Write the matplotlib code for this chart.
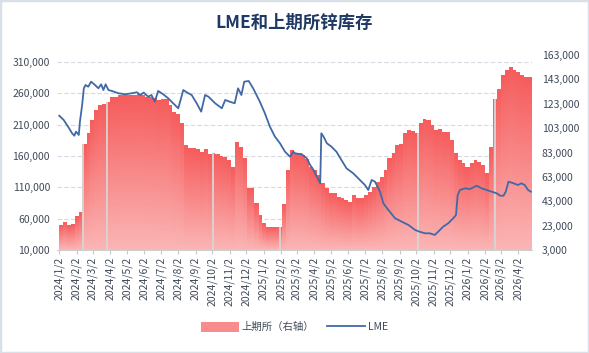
import numpy as np
import pandas as pd
import matplotlib
matplotlib.use("Agg")
import matplotlib.pyplot as plt
import matplotlib.dates as mdates
from matplotlib.patches import Patch, Rectangle
from matplotlib.lines import Line2D

plt.rcParams["font.family"] = ["Noto Sans CJK SC", "DejaVu Sans"]

title = "LME和上期所锌库存"
shfe_label = "上期所（右轴）"
lme_label = "LME"

# SHFE weekly warehouse stock (tonnes), one value per Friday from 2024-01-05
shfe_start = "2024-01-05"
shfe_stock = [
    23000, 26000, 23500, 24000, 30300, 34400, 89600, 98600, 109600, 117800,
    121900, 122700, 124600, 128700, 128700, 130000, 130000, 130500, 130000, 130500,
    131000, 130000, 128700, 128700, 128000, 126000, 127000, 127000, 122000, 115900,
    115000, 106900, 89000, 86400, 86400, 85500, 83600, 86000, 81400, 82300,
    81600, 80500, 79500, 76800, 71300, 91300, 87700, 78200, 53600, 53600,
    41300, 31700, 24900, 22100, 22100, 22100, 22100, 40500, 68600, 85000,
    82300, 82300, 80900, 78000, 71300, 68600, 64500, 57700, 53600, 49500,
    49500, 46700, 45500, 44000, 42600, 48100, 45400, 45400, 48100, 50800,
    54900, 59000, 63100, 68600, 78200, 82300, 89000, 90400, 98600, 101400,
    100500, 98600, 106900, 111000, 109600, 105500, 101400, 102200, 100000, 100000,
    93200, 82300, 76800, 74100, 71300, 74100, 76800, 75400, 72700, 66000,
    87700, 127300, 135500, 146400, 150500, 153200, 150500, 149100, 146400, 145000,
    145000,
]
# holidays with no SHFE data (thin grey breaks in the columns)
holiday_gaps = ["2024-02-13", "2024-03-28", "2024-10-04", "2025-01-31", "2025-10-05", "2026-02-19"]

# LME stock (tonnes)
lme_dates = [
    "2024-01-02", "2024-01-10", "2024-01-19", "2024-01-25", "2024-01-29", "2024-02-01",
    "2024-02-06", "2024-02-08", "2024-02-12", "2024-02-15", "2024-02-18", "2024-02-23",
    "2024-02-28", "2024-03-06", "2024-03-12", "2024-03-17", "2024-03-21", "2024-03-25",
    "2024-03-30", "2024-04-05", "2024-04-17", "2024-04-29", "2024-05-11", "2024-05-20",
    "2024-05-26", "2024-06-01", "2024-06-09", "2024-06-15", "2024-06-21", "2024-06-27",
    "2024-07-06", "2024-07-15", "2024-07-21", "2024-07-27", "2024-08-02", "2024-08-11",
    "2024-08-17", "2024-08-26", "2024-09-04", "2024-09-12", "2024-09-19", "2024-09-25",
    "2024-10-07", "2024-10-19", "2024-10-25", "2024-11-02", "2024-11-11", "2024-11-17",
    "2024-11-23", "2024-11-28", "2024-12-06", "2024-12-14", "2024-12-26", "2025-01-04",
    "2025-01-13", "2025-01-22", "2025-01-31", "2025-02-09", "2025-02-18", "2025-02-24",
    "2025-02-27", "2025-03-11", "2025-03-20", "2025-03-26", "2025-04-01", "2025-04-07",
    "2025-04-13", "2025-04-15", "2025-04-19", "2025-04-25", "2025-05-03", "2025-05-12",
    "2025-05-21", "2025-05-30", "2025-06-11", "2025-06-23", "2025-07-02", "2025-07-08",
    "2025-07-14", "2025-07-20", "2025-07-29", "2025-08-04", "2025-08-13", "2025-08-25",
    "2025-09-06", "2025-09-18", "2025-09-30", "2025-10-08", "2025-10-17", "2025-10-26",
    "2025-11-04", "2025-11-10", "2025-11-19", "2025-11-28", "2025-12-07", "2025-12-12",
    "2025-12-15", "2025-12-19", "2025-12-28", "2026-01-06", "2026-01-18", "2026-01-27",
    "2026-02-05", "2026-02-14", "2026-02-23", "2026-03-01", "2026-03-07", "2026-03-11",
    "2026-03-16", "2026-03-25", "2026-04-02", "2026-04-08", "2026-04-14", "2026-04-20",
    "2026-04-25",
]
lme_stock = [
    224500, 217600, 205300, 196400, 192500, 199000,
    193700, 214900, 241600, 268200, 273500, 270800,
    278800, 273500, 268200, 274600, 265500, 274600,
    265500, 264000, 260300, 258700, 260300, 261900,
    257500, 261400, 254800, 257500, 246800, 264000,
    258700, 252300, 246800, 241600, 236300, 265500,
    261900, 257500, 244300, 230900, 257500, 254800,
    244300, 236300, 249600, 246800, 244300, 268200,
    257500, 278800, 279900, 268200, 246800, 228300,
    206900, 191000, 180400, 167000, 159000, 167000,
    164400, 162800, 156400, 145700, 137800, 127100,
    116500, 196400, 191000, 180400, 175000, 167000,
    153700, 140500, 132500, 121800, 113800, 105800,
    121800, 119100, 103100, 84600, 73900, 60600,
    55200, 49900, 41900, 39200, 36700, 36700,
    34000, 39200, 47200, 52600, 60600, 65900,
    97800, 105800, 108500, 107400, 112700, 108500,
    105800, 103100, 100500, 96700, 96700, 103100,
    119100, 116500, 113800, 116500, 113800, 105800,
    103100,
]

left_ticks = list(range(10000, 310001, 50000))
right_ticks = list(range(3000, 163001, 20000))
month_ticks = pd.date_range("2024-01-01", "2026-04-01", freq="MS") + pd.Timedelta(days=1)

left_lim = (10000, 321400)
right_lim = (3000, 163000)
x_lim = (pd.Timestamp("2023-12-29"), pd.Timestamp("2026-04-27"))

bar_top = np.array([246, 92, 92]) / 255
bar_bottom = np.array([251, 182, 182]) / 255
grid_color = "#d5dae3"
text_color = "#404a5a"

fig = plt.figure(figsize=(5.89, 3.53), dpi=100)
fig.patches.append(Rectangle((0, 0), 1, 1, transform=fig.transFigure, fill=False,
                             edgecolor="#d9e0e8", linewidth=2.5))
ax = fig.add_axes([57 / 589, 1 - 250 / 353, 475 / 589, 195 / 353])
axl = ax.twinx()

# --- SHFE columns with per-column vertical gradient ---
week_dates = pd.date_range(shfe_start, periods=len(shfe_stock), freq="7D")
week_num = mdates.date2num(week_dates)
values = np.array(shfe_stock, dtype=float)
edges = np.append(week_num - 3.5, week_num[-1] + 3.5)

x0, x1 = mdates.date2num(x_lim[0]), mdates.date2num(x_lim[1])
W, H = 1400, 500
xs = np.linspace(x0, x1, W)
ys = np.linspace(right_lim[0], right_lim[1], H)
idx = np.searchsorted(edges, xs, side="right") - 1
valid = (idx >= 0) & (idx < len(values))
h = np.where(valid, values[np.clip(idx, 0, len(values) - 1)], right_lim[0])
frac = (ys[:, None] - right_lim[0]) / np.maximum(h[None, :] - right_lim[0], 1)
frac = np.clip(frac, 0, 1)
img = np.zeros((H, W, 4))
for c in range(3):
    img[:, :, c] = bar_bottom[c] + (bar_top[c] - bar_bottom[c]) * frac
img[:, :, 3] = (ys[:, None] <= h[None, :]).astype(float)
ax.imshow(img, extent=[x0, x1, right_lim[0], right_lim[1]], origin="lower",
          aspect="auto", interpolation="nearest", zorder=1)

gap_num = mdates.date2num(pd.to_datetime(holiday_gaps))
gap_idx = np.clip(np.searchsorted(edges, gap_num, side="right") - 1, 0, len(values) - 1)
ax.vlines(gap_num, right_lim[0], values[gap_idx], colors="#d6d6d6", linewidth=1.3, zorder=2)

# gridlines follow the left (LME) axis, drawn behind the columns
for v in left_ticks[1:]:
    ax.plot([0, 1], [v, v], transform=axl.get_yaxis_transform(), color=grid_color,
            linewidth=0.8, linestyle=(0, (4, 2)), zorder=0.5)

# --- LME line ---
axl.plot(pd.to_datetime(lme_dates), lme_stock, color="#4169a6", linewidth=1.3, zorder=3)

ax.set_xlim(x_lim)
ax.set_ylim(right_lim)
axl.set_ylim(left_lim)

ax.yaxis.tick_right()
axl.yaxis.tick_left()
ax.set_yticks(right_ticks)
ax.set_yticklabels([f"{v:,}" for v in right_ticks])
axl.set_yticks(left_ticks)
axl.set_yticklabels([f"{v:,}" for v in left_ticks])
ax.set_xticks(month_ticks)
ax.set_xticklabels([f"{d.year}/{d.month}/{d.day}" for d in month_ticks], rotation=90)

ax.tick_params(axis="y", length=0, pad=7, labelsize=7.5, labelcolor=text_color)
axl.tick_params(axis="y", length=0, pad=5, labelsize=7.5, labelcolor=text_color)
ax.tick_params(axis="x", length=3, color="#c8c8c8", pad=2, labelsize=7.5, labelcolor=text_color)

for a in (ax, axl):
    for s in a.spines.values():
        s.set_visible(False)
ax.spines["bottom"].set_visible(True)
ax.spines["bottom"].set_color("#d0d0d0")

fig.text(0.5, 1 - 23 / 353, title, ha="center", va="center", fontsize=12.5,
         fontweight="bold", color="#203864")

handles = [Patch(facecolor="#f88c8c", edgecolor="none"),
           Line2D([0], [0], color="#4169a6", linewidth=1.3)]
fig.legend(handles, [shfe_label, lme_label], loc="center", bbox_to_anchor=(0.5, 1 - 327 / 353),
           ncol=2, frameon=False, fontsize=7.5, handlelength=3.6, handleheight=1.1,
           columnspacing=1.2, handletextpad=0.3, labelcolor=text_color)

fig.savefig("out.png", dpi=100)
